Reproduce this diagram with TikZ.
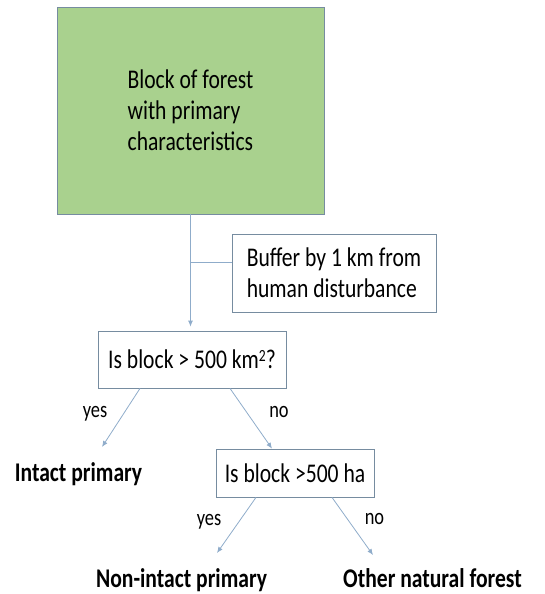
\documentclass[tikz,border=0pt]{standalone}
\usepackage{fontspec}
\setmainfont[FakeStretch=0.8]{Carlito}
\usepackage{tikz}
\usetikzlibrary{arrows.meta,positioning,calc}
\definecolor{leaf}{RGB}{169,209,142}
\definecolor{rim}{RGB}{118,140,160}
\definecolor{wire}{RGB}{143,172,202}

\begin{document}
\begin{tikzpicture}[x=1pt,y=-1pt,>={Latex[length=6pt,width=5pt]},
  box/.style={draw=rim,line width=0.8pt,align=left,font=\fontsize{27}{31}\selectfont},
  res/.style={inner sep=0pt,anchor=base,font=\fontsize{27}{30}\selectfont\bfseries},
  lbl/.style={inner sep=0pt,anchor=base,font=\fontsize{23}{26}\selectfont},
  link/.style={draw=wire,line width=0.8pt}]
 \useasboundingbox (0,0) rectangle (545,594);
 \node[box,fill=leaf,minimum width=267pt,minimum height=207pt] (blk) at (190.5,110.5) {Block of forest\\with primary\\characteristics};
 \node[box,minimum width=204pt,minimum height=76pt,inner sep=14pt] (buf) at (334,273) {Buffer by 1 km from\\human disturbance};
 \node[box,minimum width=188pt,minimum height=57pt] (q1) at (192,359.5) {Is block > 500 km{\fontsize{17}{17}\selectfont\raisebox{7pt}{2}}?};
 \node[box,minimum width=158pt,minimum height=48pt] (q2) at (295,473) {Is block >500 ha};
 \node[res] (ip) at (78.5,481) {Intact primary};
 \node[res] (nip) at (181.5,587) {Non-intact primary};
 \node[res] (onf) at (432.5,587) {Other natural forest};
 \node[lbl] (y1) at (95,417) {yes};
 \node[lbl] (n1) at (279,417) {no};
 \node[lbl] (y2) at (209,525) {yes};
 \node[lbl] (n2) at (374.5,524) {no};
 \coordinate (j) at (191,262);
 \draw[link,->,shorten >=4pt] (blk.south) -- (blk.south |- q1.north);
 \draw[link] (j) -- (j -| buf.west);
 \draw[link,->] ([xshift=-52pt]q1.south) -- ([xshift=23.5pt,yshift=34pt]ip.base);
 \draw[link,->] ([xshift=38pt]q1.south) -- ([xshift=-23pt]q2.north);
 \draw[link,->] ([xshift=-39pt]q2.south) -- ([xshift=35.5pt,yshift=34pt]nip.base);
 \draw[link,->] ([xshift=37pt]q2.south) -- ([xshift=-59.5pt,yshift=32pt]onf.base);
\end{tikzpicture}
\end{document}
